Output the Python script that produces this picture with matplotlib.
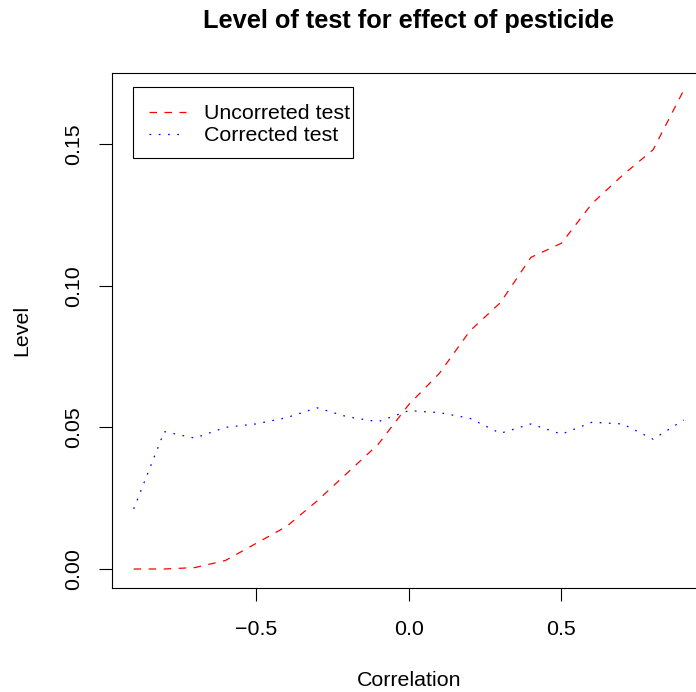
import matplotlib
matplotlib.use('Agg')
import matplotlib.pyplot as plt
from matplotlib.patches import Rectangle
import numpy as np

correlation = [-0.9, -0.8, -0.7, -0.6, -0.5, -0.4, -0.3, -0.2, -0.1, 0.0,
               0.1, 0.2, 0.3, 0.4, 0.5, 0.6, 0.7, 0.8, 0.9]
uncorrected = [0.0, 0.0, 0.0005, 0.003, 0.009, 0.015, 0.024, 0.034, 0.044, 0.058,
               0.069, 0.084, 0.094, 0.110, 0.115, 0.129, 0.139, 0.148, 0.169]
corrected = [0.0212, 0.0485, 0.0462, 0.0500, 0.0512, 0.0534, 0.0569, 0.0537, 0.0520, 0.0559,
             0.0552, 0.0532, 0.0479, 0.0512, 0.0476, 0.0518, 0.0512, 0.0458, 0.0526]
xticks = [-0.5, 0.0, 0.5]
yticks = [0.00, 0.05, 0.10, 0.15]

plt.rcParams['font.family'] = ['Liberation Sans', 'DejaVu Sans']
plt.rcParams['axes.unicode_minus'] = True
fs = 15.4

fig = plt.figure(figsize=(6.96, 6.92), dpi=100)
W, H = 696, 692
# plot region in pixels (right side runs past the edge, as in the reference)
left_px, right_px, top_px, bot_px = 111.7, 705.7, 72.7, 588.0
ax = fig.add_axes([left_px / W, 1 - bot_px / H, (right_px - left_px) / W,
                   (bot_px - top_px) / H])

ax.plot(correlation, uncorrected, color='red', lw=0.9, ls=(0, (6, 6)),
        label='Uncorreted test')
ax.plot(correlation, corrected, color='blue', lw=0.9, ls=(0, (1.4, 6.0)),
        label='Corrected test')

ax.set_xlim(-0.972, 0.972)
ax.set_ylim(-(588 - 569) / 2833, (569 - 72.7) / 2833)
ax.set_xticks(xticks)
ax.set_xticklabels(['\u22120.5', '0.0', '0.5'])
ax.set_yticks(yticks)
ax.set_yticklabels(['0.00', '0.05', '0.10', '0.15'])
ax.tick_params(direction='out', length=9.4, width=0.8, labelsize=fs, color='black')
ax.tick_params(axis='x', pad=13.5)
ax.tick_params(axis='y', pad=11.5)
plt.setp(ax.get_yticklabels(), rotation=90, va='center')
for s in ax.spines.values():
    s.set_linewidth(0.8)

ax.set_title('Level of test for effect of pesticide', fontsize=18.3,
             fontweight='bold', pad=32)
fig.text(408.7 / W, 1 - 681 / H, 'Correlation', ha='center', va='center', fontsize=fs)
fig.text(22 / W, 1 - 330 / H, 'Level', ha='center', va='center', rotation=90, fontsize=fs)

# legend entries without frame, then an R-style box drawn around them
leg = ax.legend(loc='upper left', bbox_to_anchor=(149 / W, 1 - 104 / H),
                bbox_transform=fig.transFigure, fontsize=fs, frameon=False,
                handlelength=1.75, handletextpad=0.8,
                labelspacing=0.15, borderpad=0, borderaxespad=0)
fig.patches.append(Rectangle((133 / W, 1 - 158 / H), (353 - 133) / W, (158 - 87) / H,
                             transform=fig.transFigure, fill=False,
                             edgecolor='black', linewidth=0.8, zorder=5))

fig.savefig('out.png', dpi=100)
